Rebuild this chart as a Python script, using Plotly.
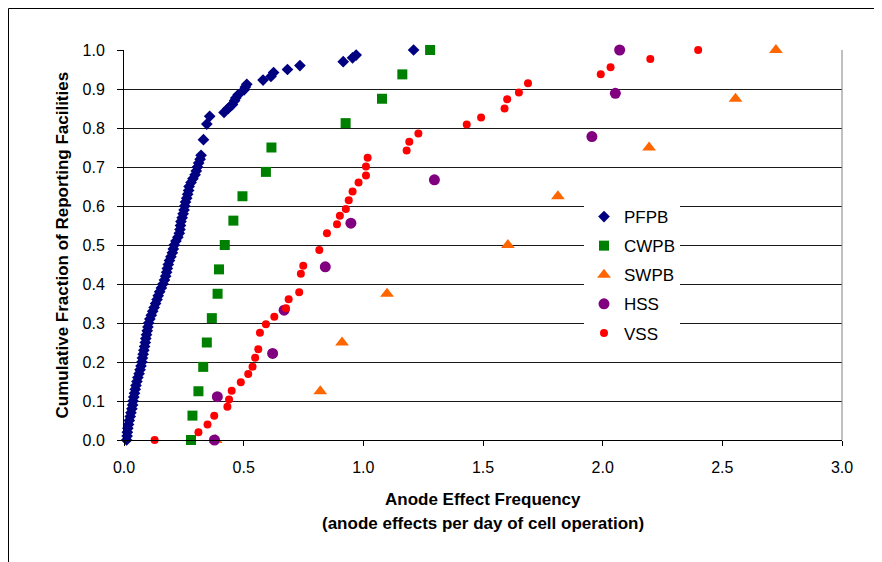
import plotly.graph_objects as go

# ---------------- data ----------------
pfpb_x = [0.011, 0.013, 0.014, 0.016, 0.019, 0.022, 0.026, 0.029, 0.033, 0.036,
          0.038, 0.041, 0.044, 0.047, 0.050, 0.054, 0.058, 0.063, 0.067, 0.071,
          0.075, 0.077, 0.080, 0.083, 0.086, 0.089, 0.091, 0.094, 0.097, 0.100,
          0.103, 0.108, 0.114, 0.120, 0.126, 0.132, 0.138, 0.143, 0.149, 0.156,
          0.163, 0.169, 0.174, 0.178, 0.181, 0.185, 0.190, 0.196, 0.202, 0.206,
          0.210, 0.217, 0.225, 0.231, 0.234, 0.236, 0.238, 0.243, 0.247, 0.251,
          0.254, 0.257, 0.262, 0.266, 0.270, 0.272, 0.280, 0.288, 0.297, 0.302,
          0.307, 0.312, 0.318, 0.322, 0.332, 0.346, 0.358, 0.418, 0.435, 0.443,
          0.453, 0.462, 0.467, 0.477, 0.502, 0.507, 0.513, 0.581, 0.614, 0.625,
          0.683, 0.735, 0.916, 0.955, 0.970, 1.210]
pfpb_y = [0.00, 0.01, 0.02, 0.03, 0.04, 0.05, 0.06, 0.07, 0.08, 0.09,
          0.10, 0.11, 0.12, 0.13, 0.14, 0.15, 0.16, 0.17, 0.18, 0.19,
          0.20, 0.21, 0.22, 0.23, 0.24, 0.25, 0.26, 0.27, 0.28, 0.29,
          0.30, 0.31, 0.32, 0.33, 0.34, 0.35, 0.36, 0.37, 0.38, 0.39,
          0.40, 0.41, 0.42, 0.43, 0.44, 0.45, 0.46, 0.47, 0.48, 0.49,
          0.50, 0.51, 0.52, 0.53, 0.54, 0.55, 0.56, 0.57, 0.58, 0.59,
          0.60, 0.61, 0.62, 0.63, 0.64, 0.65, 0.66, 0.67, 0.68, 0.69,
          0.70, 0.71, 0.72, 0.73, 0.77, 0.81, 0.83, 0.84, 0.85, 0.855,
          0.86, 0.87, 0.877, 0.885, 0.898, 0.905, 0.912, 0.923, 0.932, 0.942,
          0.95, 0.96, 0.97, 0.98, 0.987, 1.00]

cwpb_x = [0.280, 0.286, 0.311, 0.331, 0.346, 0.367, 0.391, 0.397, 0.421,
          0.457, 0.495, 0.593, 0.616, 0.926, 1.078, 1.163, 1.279]
cwpb_y = [0.0, 0.0625, 0.125, 0.1875, 0.25, 0.3125, 0.375, 0.4375, 0.5,
          0.5625, 0.625, 0.6875, 0.75, 0.8125, 0.875, 0.9375, 1.0]

swpb_x = [0.383, 0.820, 0.911, 1.099, 1.604, 1.813, 2.194, 2.555, 2.724]
swpb_y = [0.0, 0.125, 0.25, 0.375, 0.5, 0.625, 0.75, 0.875, 1.0]

hss_x = [0.378, 0.390, 0.621, 0.669, 0.841, 0.948, 1.297, 1.955, 2.053, 2.071]
hss_y = [0.0, 0.111, 0.222, 0.333, 0.444, 0.556, 0.667, 0.778, 0.889, 1.0]

vss_x = [0.128, 0.311, 0.349, 0.377, 0.432, 0.439, 0.450, 0.488, 0.519, 0.537,
         0.548, 0.561, 0.568, 0.593, 0.628, 0.677, 0.688, 0.732, 0.739, 0.749,
         0.816, 0.848, 0.890, 0.902, 0.927, 0.939, 0.955, 0.980, 1.011, 1.011,
         1.018, 1.181, 1.192, 1.230, 1.432, 1.492, 1.590, 1.601, 1.650, 1.688,
         1.992, 2.033, 2.199, 2.399]
vss_y = [0.000, 0.020, 0.040, 0.062, 0.085, 0.104, 0.126, 0.148, 0.169, 0.188,
         0.211, 0.233, 0.275, 0.297, 0.316, 0.338, 0.361, 0.379, 0.426, 0.447,
         0.487, 0.530, 0.553, 0.575, 0.592, 0.615, 0.637, 0.660, 0.678, 0.701,
         0.724, 0.742, 0.765, 0.786, 0.809, 0.827, 0.850, 0.874, 0.891, 0.915,
         0.938, 0.956, 0.977, 1.000]

x_ticks = [0.0, 0.5, 1.0, 1.5, 2.0, 2.5, 3.0]
x_tick_labels = ["0.0", "0.5", "1.0", "1.5", "2.0", "2.5", "3.0"]
y_ticks = [0.0, 0.1, 0.2, 0.3, 0.4, 0.5, 0.6, 0.7, 0.8, 0.9, 1.0]
y_tick_labels = ["0.0", "0.1", "0.2", "0.3", "0.4", "0.5", "0.6", "0.7", "0.8", "0.9", "1.0"]

FONT = "Arial, 'Liberation Sans', sans-serif"

series = [
    ("PFPB", pfpb_x, pfpb_y, "diamond", 9, "#000080"),
    ("CWPB", cwpb_x, cwpb_y, "square", 10, "#008000"),
    ("SWPB", swpb_x, swpb_y, "triangle-up", 12, "#FF6600"),
    ("HSS", hss_x, hss_y, "circle", 11, "#800080"),
    ("VSS", vss_x, vss_y, "circle", 8, "#FF0000"),
]

fig = go.Figure()
for name, xs, ys, sym, size, col in series:
    fig.add_trace(go.Scatter(
        x=xs, y=ys, mode="markers", name=name, legendgroup=name,
        marker=dict(symbol=sym, size=size, color=col, line=dict(width=0)),
        cliponaxis=False,
    ))

# page body has an 8px margin; target screen positions of the plot area
OFF = 8
L, R, T, B = 124, 842, 50, 440
W, H = 882, 562


def px_x(p):
    return (p - L) / (R - L)


def px_y(p):
    return (B - p) / (B - T)


frame_col = "black"
fx0, fx1, fy0, fy1 = px_x(8.5), px_x(877), px_y(8.5), px_y(575)

fig.update_layout(
    width=W, height=H,
    margin=dict(l=L - OFF, r=W - (R - OFF), t=T - OFF, b=H - (B - OFF)),
    paper_bgcolor="white", plot_bgcolor="white",
    font=dict(family=FONT, size=16, color="black"),
    showlegend=True,
    legend=dict(
        x=px_x(584), y=px_y(199), xanchor="left", yanchor="top",
        bgcolor="white", borderwidth=0, font=dict(size=17, family=FONT),
        tracegroupgap=4, itemwidth=30,
    ),
    xaxis=dict(
        range=[0, 3.0], tickmode="array", tickvals=x_ticks, ticktext=x_tick_labels,
        showgrid=False, zeroline=False, showline=True, linecolor="black", linewidth=1,
        ticks="outside", ticklen=5, tickcolor="black", tickfont=dict(size=16),
        ticklabelstandoff=8,
    ),
    yaxis=dict(
        range=[0, 1.0], tickmode="array", tickvals=y_ticks, ticktext=y_tick_labels,
        showgrid=True, gridcolor="#1a1a1a", gridwidth=1,
        zeroline=False, showline=True, linecolor="black", linewidth=1,
        ticks="outside", ticklen=6, tickcolor="black", tickfont=dict(size=16),
        ticklabelstandoff=9,
    ),
    annotations=[
        dict(text="<b>Cumulative Fraction of Reporting Facilities</b>",
             xref="paper", yref="paper", x=px_x(62), y=px_y(421),
             xanchor="center", yanchor="bottom", textangle=-90, showarrow=False,
             font=dict(size=17, family=FONT)),
        dict(text="<b>Anode Effect Frequency</b>",
             xref="paper", yref="paper", x=0.5, y=px_y(500),
             xanchor="center", yanchor="middle", showarrow=False,
             font=dict(size=17, family=FONT)),
        dict(text="<b>(anode effects per day of cell operation)</b>",
             xref="paper", yref="paper", x=0.5, y=px_y(523),
             xanchor="center", yanchor="middle", showarrow=False,
             font=dict(size=17, family=FONT)),
    ],
    shapes=[
        dict(type="line", xref="paper", yref="paper", x0=1, x1=1, y0=0, y1=1,
             line=dict(color="#808080", width=1)),
        dict(type="line", xref="paper", yref="paper", x0=fx0, x1=fx1, y0=fy0, y1=fy0,
             line=dict(color=frame_col, width=1), layer="above"),
        dict(type="line", xref="paper", yref="paper", x0=fx0, x1=fx0, y0=fy0, y1=fy1,
             line=dict(color=frame_col, width=1), layer="above"),
        dict(type="line", xref="paper", yref="paper", x0=fx1, x1=fx1, y0=fy0, y1=fy1,
             line=dict(color=frame_col, width=1), layer="above"),
    ],
)

fig.write_html("out.html")
